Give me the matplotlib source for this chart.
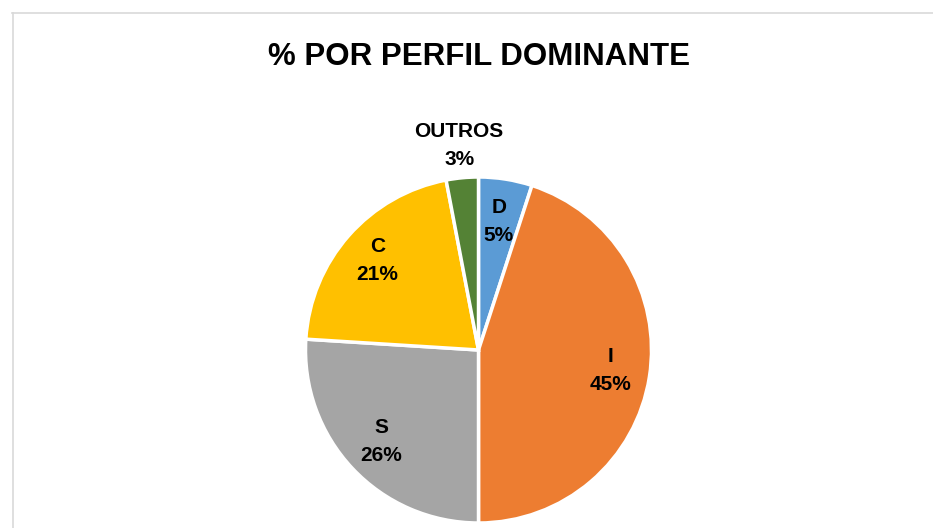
import matplotlib
matplotlib.use("Agg")
import matplotlib.pyplot as plt
from matplotlib.lines import Line2D
import numpy as np

categories = ["D", "I", "S", "C", "OUTROS"]
values = [5, 45, 26, 21, 3]
colors = ["#5B9BD5", "#ED7D31", "#A5A5A5", "#FFC000", "#548235"]
label_dist = [0.75, 0.77, 0.77, 0.78, 1.19]

plt.rcParams["font.family"] = ["Liberation Sans", "DejaVu Sans"]

W, H = 933, 528
fig = plt.figure(figsize=(W / 100, H / 100), dpi=100)

# pie centre and radius in pixels (from top-left)
cx, cy, R = 478.5, 350, 173
k = 1.3
side = 2 * R * k
ax = fig.add_axes([(cx - side / 2) / W, (H - cy - side / 2) / H, side / W, side / H])

wedges, _ = ax.pie(values, colors=colors, startangle=90, counterclock=False,
                   radius=1, wedgeprops=dict(edgecolor="white", linewidth=2.5))
ax.set_xlim(-k, k)
ax.set_ylim(-k, k)
ax.set_aspect("equal")
ax.axis("off")

total = sum(values)
for w, cat, v, d in zip(wedges, categories, values, label_dist):
    ang = np.deg2rad((w.theta1 + w.theta2) / 2)
    ax.text(d * np.cos(ang), d * np.sin(ang), f"{cat}\n{v / total:.0%}",
            ha="center", va="center", fontsize=15, fontweight="bold",
            linespacing=1.6, color="black")

fig.text(cx / W, 1 - 57 / H, "% POR PERFIL DOMINANTE", ha="center", va="center",
         fontsize=22.5, fontweight="bold", color="black")

# chart frame (only top and left visible in crop)
fig.add_artist(Line2D([12 / W, 1], [1 - 12.5 / H, 1 - 12.5 / H],
                      transform=fig.transFigure, color="#D9D9D9", lw=1.2))
fig.add_artist(Line2D([12.5 / W, 12.5 / W], [0, 1 - 12.5 / H],
                      transform=fig.transFigure, color="#D9D9D9", lw=1.2))

fig.savefig("out.png", dpi=100)
